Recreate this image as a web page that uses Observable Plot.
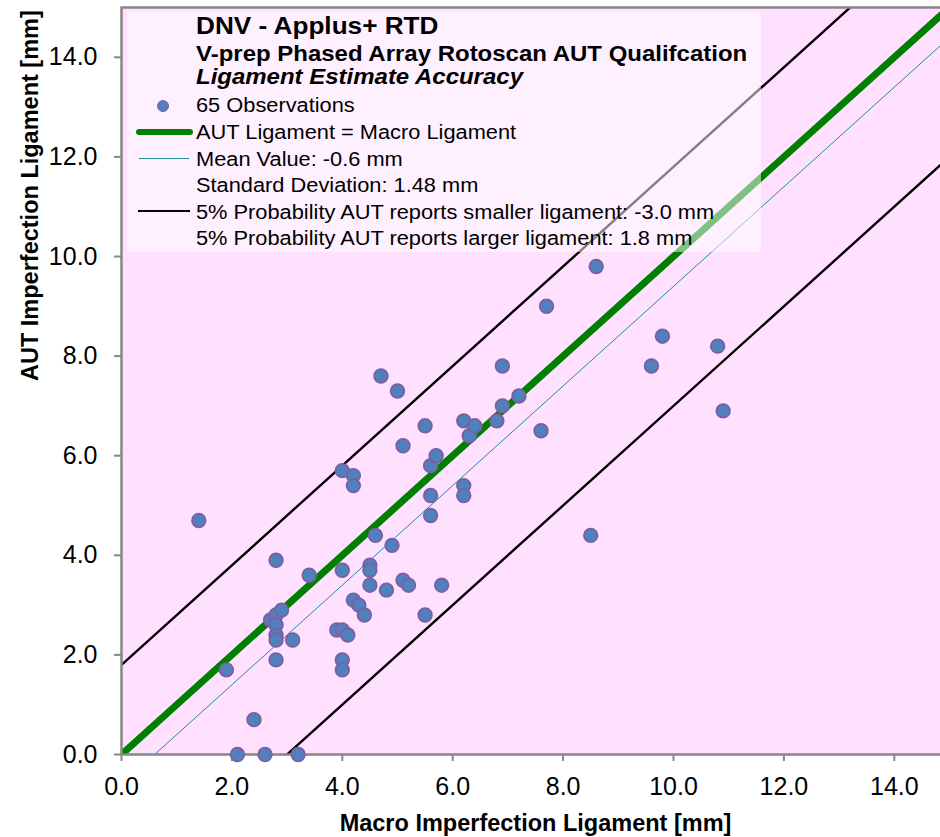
<!DOCTYPE html>
<html>
<head>
<meta charset="utf-8">
<script src="https://cdn.jsdelivr.net/npm/d3@7"></script>
<script src="https://cdn.jsdelivr.net/npm/@observablehq/plot@0.6"></script>
<style>
  html, body { margin: 0; padding: 0; background: white; }
  #wrap { position: relative; width: 940px; height: 837px; overflow: hidden; font-family: "Liberation Sans", Arial, sans-serif; }
  #chart svg { display: block; max-width: none !important; width: 949px !important; height: 837px !important; }
  #legend { position: absolute; left: 127px; top: 12px; width: 634px; height: 240px; background: rgba(255,255,255,0.5); }
  #legend .t { position: absolute; left: 69px; white-space: nowrap; transform: scaleX(1.09); transform-origin: 0 0; color: black; }
  #legend .sym { position: absolute; }
</style>
</head>
<body>
<div id="wrap">
  <div id="chart"></div>
  <div id="legend"></div>
</div>
<script>
// ---- data ----
const macroLigament = [1.4, 1.9, 2.1, 2.4, 2.6, 2.7, 2.8, 2.8, 2.8, 2.8, 2.8, 2.8, 2.9, 3.1, 3.2, 3.4,
  3.9, 4.0, 4.1, 4.0, 4.0, 4.0, 4.0, 4.2, 4.2, 4.2, 4.3, 4.4, 4.5, 4.5, 4.5, 4.6, 4.7, 4.8, 4.9,
  5.0, 5.1, 5.1, 5.2, 5.5, 5.5, 5.6, 5.6, 5.6, 5.7, 5.8, 6.2, 6.2, 6.2, 6.3, 6.4, 6.8, 6.9, 6.9,
  7.2, 7.6, 7.7, 8.5, 8.6, 9.6, 9.8, 10.8, 10.9];
const autLigament = [4.7, 1.7, 0.0, 0.7, 0.0, 2.7, 3.9, 2.8, 2.6, 2.4, 2.3, 1.9, 2.9, 2.3, 0.0, 3.6,
  2.5, 2.5, 2.4, 1.9, 1.7, 3.7, 5.7, 5.6, 5.4, 3.1, 3.0, 2.8, 3.8, 3.7, 3.4, 4.4, 7.6, 3.3, 4.2,
  7.3, 6.2, 3.5, 3.4, 6.6, 2.8, 5.8, 5.2, 4.8, 6.0, 3.4, 6.7, 5.4, 5.2, 6.4, 6.6, 6.7, 7.0, 7.8,
  7.2, 6.5, 9.0, 4.4, 9.8, 7.8, 8.4, 8.2, 6.9];

const refLineEnds = [0, 15];          // x extent of the reference lines
const equalityOffset = 0;             // AUT = Macro
const meanOffset = -0.6;              // mean value
const lowerOffset = -3.0;             // 5% smaller
const upperOffset = 1.8;              // 5% larger

const xTicks = [0, 2, 4, 6, 8, 10, 12, 14];
const yTicks = [0, 2, 4, 6, 8, 10, 12, 14];

const xTitle = "Macro Imperfection Ligament [mm]";
const yTitle = "AUT Imperfection Ligament [mm]";

const legendTitles = ["DNV - Applus+ RTD", "V-prep Phased Array Rotoscan AUT Qualifcation", "Ligament Estimate Accuracy"];
const legendEntries = [
  "65 Observations",
  "AUT Ligament = Macro Ligament",
  "Mean Value: -0.6 mm",
  "Standard Deviation: 1.48 mm",
  "5% Probability AUT reports smaller ligament: -3.0 mm",
  "5% Probability AUT reports larger ligament: 1.8 mm"
];

// ---- build ----
const obs = macroLigament.map((m, i) => ({macro: m, aut: autLigament[i]}));
const offsetLine = (off) => refLineEnds.map(x => ({x, y: x + off}));

const DOT_FILL = "#4F81BD", DOT_STROKE = "#7D5EA3";
const GREEN = "#008000", TEAL = "#1E8D9E", GRAY = "#878787";

const chart = Plot.plot({
  width: 949,
  height: 837,
  marginLeft: 121,
  marginRight: 0,
  marginTop: 7,
  marginBottom: 83,
  x: {domain: [0, 15]},
  y: {domain: [0, 15]},
  style: {fontFamily: "'Liberation Sans', Arial, sans-serif", background: "white", color: "black", maxWidth: "none"},
  marks: [
    Plot.frame({fill: "#FFE0FF", stroke: null}),
    Plot.line(offsetLine(upperOffset), {x: "x", y: "y", stroke: "black", strokeWidth: 2.4, clip: true}),
    Plot.line(offsetLine(lowerOffset), {x: "x", y: "y", stroke: "black", strokeWidth: 2.4, clip: true}),
    Plot.line(offsetLine(equalityOffset), {x: "x", y: "y", stroke: GREEN, strokeWidth: 7, clip: true}),
    Plot.line(offsetLine(meanOffset), {x: "x", y: "y", stroke: TEAL, strokeWidth: 1, clip: true}),
    Plot.frame({stroke: GRAY, strokeWidth: 2.5}),
    Plot.axisX({ticks: xTicks, tickFormat: d3.format(".1f"), tickSize: 7, tickPadding: 16, fontSize: 25,
      stroke: GRAY, strokeWidth: 2, fill: "black", label: null}),
    Plot.axisY({ticks: yTicks, tickFormat: d3.format(".1f"), tickSize: 7, tickPadding: 17, fontSize: 25,
      stroke: GRAY, strokeWidth: 2, fill: "black", label: null}),
    Plot.dot(obs, {x: "macro", y: "aut", r: 6.8, fill: DOT_FILL, stroke: DOT_STROKE, strokeWidth: 1.8}),
    Plot.text([xTitle], {text: d => d, frameAnchor: "bottom", dy: 69, lineAnchor: "middle",
      fontSize: 23.5, fontWeight: "bold", fill: "black"}),
    Plot.text([yTitle], {text: d => d, frameAnchor: "left", rotate: -90, dx: -91.5, lineAnchor: "middle",
      fontSize: 23.5, fontWeight: "bold", fill: "black"})
  ]
});
document.getElementById("chart").appendChild(chart);

// ---- legend overlay (HTML) ----
const legend = document.getElementById("legend");
function addText(str, baseline, size, weight, style) {
  const d = document.createElement("div");
  d.className = "t";
  d.textContent = str;
  d.style.fontSize = size + "px";
  d.style.lineHeight = size + "px";
  d.style.fontWeight = weight;
  d.style.fontStyle = style;
  d.style.top = (baseline - 0.8465 * size) + "px";
  legend.appendChild(d);
}
const titleBaselines = [22, 49.7, 73];
addText(legendTitles[0], titleBaselines[0], 24, "bold", "normal");
addText(legendTitles[1], titleBaselines[1], 22, "bold", "normal");
addText(legendTitles[2], titleBaselines[2], 22, "bold", "italic");
const entryBaselines = [99.7, 126.8, 153.6, 180.4, 206.6, 233.2];
legendEntries.forEach((e, i) => addText(e, entryBaselines[i], 20, "normal", "normal"));

function addSym(css) {
  const s = document.createElement("div");
  s.className = "sym";
  Object.assign(s.style, css);
  legend.appendChild(s);
}
addSym({left: "30px", top: "87.5px", width: "10px", height: "10px", borderRadius: "50%",
  background: DOT_FILL, border: "1.5px solid " + DOT_STROKE});
addSym({left: "9px", top: "116.5px", width: "57px", height: "6px", borderRadius: "3px", background: GREEN});
addSym({left: "12px", top: "146px", width: "50px", height: "1px", background: TEAL});
addSym({left: "11px", top: "197.5px", width: "52px", height: "2px", background: "black"});
</script>
</body>
</html>
